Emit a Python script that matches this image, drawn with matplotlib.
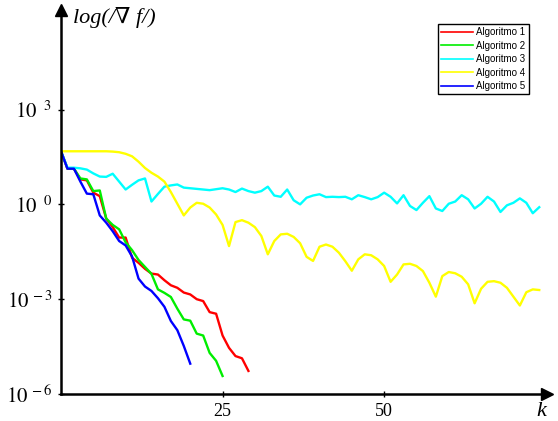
import numpy as np
import matplotlib
matplotlib.use("Agg")
import matplotlib.pyplot as plt

# log10 of gradient norm, per iteration k
alg1 = [1.68, 1.13, 1.13, 0.79, 0.76, 0.37, 0.26, -0.45, -0.72, -1.05, -1.05, -1.69, -1.85,
        -2.04, -2.19, -2.22, -2.40, -2.56, -2.64, -2.79, -2.85, -3.00, -3.06, -3.41, -3.46,
        -4.15, -4.54, -4.80, -4.87, -5.27]
alg2 = [1.68, 1.13, 1.13, 0.82, 0.79, 0.42, 0.44, -0.45, -0.65, -0.79, -1.20, -1.45, -1.76,
        -1.98, -2.20, -2.69, -2.80, -2.93, -3.30, -3.64, -3.68, -4.09, -4.15, -4.70, -4.95, -5.43]
alg3 = [1.68, 1.16, 1.16, 1.14, 1.10, 0.98, 0.88, 0.87, 0.97, 0.72, 0.47, 0.62, 0.76, 0.82,
        0.09, 0.33, 0.56, 0.60, 0.63, 0.53, 0.51, 0.49, 0.47, 0.45, 0.48, 0.51, 0.47, 0.39,
        0.50, 0.42, 0.37, 0.42, 0.56, 0.28, 0.24, 0.47, 0.13, 0.00, 0.21, 0.28, 0.32, 0.23,
        0.24, 0.23, 0.24, 0.16, 0.29, 0.23, 0.16, 0.23, 0.37, 0.24, 0.03, 0.29, -0.05, -0.18,
        0.05, 0.26, -0.13, -0.21, 0.02, 0.09, 0.29, 0.16, -0.13, 0.02, 0.24, 0.09, -0.24,
        -0.03, 0.05, 0.19, 0.05, -0.28, -0.09]
alg4 = [1.68, 1.68, 1.68, 1.68, 1.68, 1.68, 1.68, 1.68, 1.67, 1.65, 1.60, 1.52, 1.35, 1.15,
        1.00, 0.88, 0.72, 0.39, 0.02, -0.35, -0.10, 0.05, 0.02, -0.10, -0.32, -0.65, -1.32,
        -0.56, -0.50, -0.58, -0.72, -1.00, -1.58, -1.16, -0.95, -0.93, -1.03, -1.23, -1.66,
        -1.79, -1.34, -1.27, -1.34, -1.53, -1.80, -2.10, -1.74, -1.58, -1.61, -1.74, -1.95,
        -2.45, -2.22, -1.90, -1.88, -1.95, -2.11, -2.48, -2.92, -2.27, -2.14, -2.18, -2.29,
        -2.53, -3.13, -2.67, -2.45, -2.43, -2.48, -2.64, -2.92, -3.20, -2.78, -2.69, -2.71]
alg5 = [1.68, 1.13, 1.13, 0.72, 0.34, 0.32, -0.35, -0.58, -0.85, -1.16, -1.30, -1.65, -2.35,
        -2.60, -2.74, -2.97, -3.24, -3.69, -3.98, -4.48, -5.04]

series = [alg1, alg2, alg3, alg4, alg5]
labels = ["Algoritmo 1", "Algoritmo 2", "Algoritmo 3", "Algoritmo 4", "Algoritmo 5"]
colors = ["#ff0000", "#00ee00", "#00ffff", "#ffff00", "#0000ff"]

yticks = [1e3, 1e0, 1e-3, 1e-6]
ytick_labels = [r"$10^{\ \ 3}$", r"$10^{\ \ 0}$", r"$10^{\,-3}$", r"$10^{\,-6}$"]
xticks = [25, 50]
xtick_labels = ["25", "50"]

plt.rcParams["mathtext.fontset"] = "stix"
W, H = 558, 421
fig = plt.figure(figsize=(W / 100, H / 100), dpi=100)
ax = fig.add_axes([61 / W, 1 - 394 / H, (547 - 61) / W, (394 - 10) / H])

for s, lab, c in zip(series, labels, colors):
    k = np.arange(len(s))
    ax.plot(k, 10 ** np.array(s), color=c, lw=1.7, label=lab)

ax.set_yscale("log")
ax.set_xlim(0, 75.2)
ax.set_ylim(1e-6, 10 ** 6.15)
ax.minorticks_off()

ax.set_yticks(yticks)
ax.set_yticklabels(ytick_labels, fontsize=15, family="Liberation Serif")
ax.set_xticks(xticks)
ax.set_xticklabels(xtick_labels, fontsize=13, family="Liberation Serif")
ax.tick_params(axis="both", direction="inout", length=5, width=1, pad=4)

for sp in ["top", "right"]:
    ax.spines[sp].set_visible(False)
for sp in ["left", "bottom"]:
    ax.spines[sp].set_linewidth(1.8)

ax.plot(1, 0, ">", color="black", markersize=8, transform=ax.transAxes, clip_on=False)
ax.plot(0, 1, "^", color="black", markersize=8, transform=ax.transAxes, clip_on=False)

fig.text(73 / W, 1 - 17 / H, "log(/\u2207 f/)", fontsize=16, style="italic",
         family=["Liberation Serif", "DejaVu Serif", "DejaVu Sans"], va="center", ha="left")
fig.text(541 / W, 1 - 411 / H, "k", fontsize=16, style="italic",
         family="Liberation Serif", va="center", ha="center")

leg = ax.legend(loc="upper right", bbox_to_anchor=(529 / W, 1 - 24 / H),
                bbox_transform=fig.transFigure, borderaxespad=0, fancybox=False,
                shadow=False, edgecolor="black", framealpha=1, handlelength=3.2,
                prop={"family": "Liberation Sans", "size": 7}, labelspacing=0.35,
                borderpad=0.35, handletextpad=0.4)
leg.get_frame().set_linewidth(1.0)
for l in leg.get_lines():
    l.set_linewidth(1.2)

fig.savefig("out.png", dpi=100)
